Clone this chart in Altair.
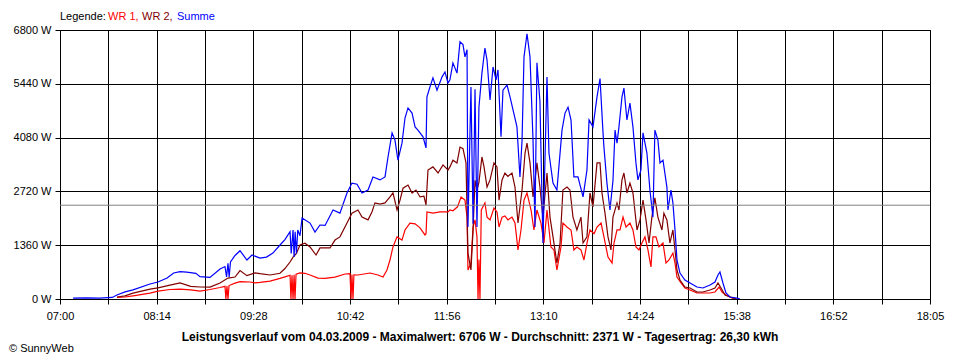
import altair as alt
import pandas as pd

# ---- data (x = minutes after 07:00, y = Watt) ----
sum_t = [10.0, 20, 30, 40, 43.6, 49.8, 55.9, 68.9, 75.0, 82, 87, 91.9, 97, 104, 107.2, 114.8, 122.5, 126.3, 127.5,
         128.6, 129.5, 130.5, 134.0, 137.8, 143.1, 147.0, 153.1, 158, 163, 168.4, 172.2, 176.1, 177, 178.4, 179.2,
         180, 181, 182, 183.7, 185.3, 191.4, 195.2, 199.0, 202.9, 209.0, 214.3, 219.7, 223.5, 227.4, 231.2, 235.8,
         239.6, 245.0, 248.8, 251.1, 254.2, 256.4, 258.7, 261.8, 264.1, 266.4, 269.5, 271.8, 274.0, 277.9, 280.2,
         280.9, 283.2, 285.5, 288.6, 292.4, 294.7, 297.0, 298.5, 300.8, 303.9, 306.2, 308.5, 310.0, 311.6, 312.3,
         314.6, 316.2, 317.7, 319.2, 320.7, 323.0, 325.3, 326.9, 329.2, 331.5, 333.8, 335.3, 337.6, 339.1, 342.2,
         344.5, 346.8, 349.8, 352.1, 353.7, 355.2, 357.5, 359.8, 362.1, 363.6, 365.1, 367.4, 369.7, 372.8, 374.3,
         377.4, 380.4, 384.3, 386.6, 388.9, 391.2, 393.4, 396.5, 400.4, 403.4, 405.0, 408.0, 411.1, 413.4, 415.7,
         416.4, 418.7, 421.0, 423.3, 424.9, 426.4, 427.9, 430.2, 431.7, 434.0, 436.3, 438.6, 440.9, 442.4, 444.7,
         446.3, 449.3, 451.6, 453.9, 455.4, 457.7, 459.3, 461.6, 464.6, 465.4, 467.7, 469.2, 470.8, 472.3, 474.6,
         478.4, 482.3, 487.6, 492.2, 497.6, 501.4, 503.7, 505.2, 507.5, 509.8, 512.9, 518.2, 520.5]
sum_w = [20, 30, 20, 40, 100, 180, 230, 380, 430, 530, 657, 690, 680, 650, 565, 545, 760, 820, 560,
         900, 560, 935, 1100, 1220, 986, 1112, 1035, 1060, 1160, 1365, 1500, 1700, 1150, 1745, 1060,
         1700, 1150, 1745, 1600, 2050, 1920, 1690, 1870, 1860, 2250, 2170, 2680, 2930, 2900, 2680, 2755,
         3085, 3010, 3085, 3590, 4200, 4020, 3510, 3940, 4575, 4830, 4700, 4350, 4270, 4100, 3820,
         5110, 5360, 5590, 5280, 5610, 5740, 5460, 5540, 5970, 5710, 6500, 6430, 6120, 6300, 1820,
         5360, 1900, 5300, 1820, 4850, 5710, 6345, 6040, 5030, 5865, 5540, 5790, 4100, 5280, 5410,
         5110, 4780, 4350, 3085, 4000, 6120, 6706, 6120, 4020, 1820, 5970, 5000, 1415, 5610, 3690,
         2930, 2755, 4270, 4700, 4850, 4525, 3085, 3085, 2580, 3260, 4525, 4350, 5110, 5570, 4200,
         3840, 2930, 2250, 2990, 4270, 3940, 4350, 5110, 5330, 4525, 4950, 4350, 3440, 3010, 3260,
         4200, 3690, 2755, 2070, 4270, 4020, 3440, 3510, 2830, 2250, 2755, 2430, 1745, 986, 657,
         480, 405, 303, 278, 354, 430, 607, 682, 405, 152, 50, 20, 0]

wr2_t = [43.6, 49.8, 55.9, 68.9, 75.0, 84.2, 91.9, 100, 107.2, 114.8, 122.5, 128.6, 134.0, 137.8, 143.1, 149.3,
         153.1, 160.8, 168.4, 172.2, 176.1, 178.4, 181, 183.7, 187.5, 191.4, 196.0, 199.0, 206.7, 210.5, 214.3,
         219.7, 223.5, 228.1, 231.2, 235.8, 238.8, 241.1, 245.0, 248.8, 252.6, 254.9, 258.0, 260.3, 262.6, 266.4,
         269.5, 272.5, 275.6, 278.6, 280.2, 281.7, 285.5, 289.4, 293.2, 297.0, 298.5, 300.8, 303.9, 306.2, 308.5,
         310.8, 312.3, 314.6, 316.2, 317.7, 319.2, 320.7, 323.0, 324.6, 326.9, 329.2, 332.2, 334.5, 336.1, 338.4,
         340.6, 342.9, 346.0, 348.3, 350.6, 353.7, 356.0, 357.5, 359.8, 362.1, 365.1, 367.4, 369.7, 372.8, 375.1,
         377.4, 380.4, 382.8, 385.0, 388.1, 390.4, 392.7, 395.7, 398.8, 400.4, 403.4, 405.7, 408.0, 411.1, 413.4,
         414.9, 417.2, 419.5, 421.8, 423.3, 426.4, 427.9, 430.2, 431.7, 434.0, 436.3, 438.6, 441.7, 444.0, 446.3,
         448.6, 450.9, 453.1, 455.4, 457.7, 460.8, 462.3, 464.6, 466.9, 469.2, 470.8, 472.3, 474.6, 478.4, 482.3,
         487.6, 492.2, 497.6, 501.4, 503.7, 506.0, 509.1, 512.9, 517.4]
wr2_w = [50, 80, 150, 250, 280, 350, 405, 320, 303, 300, 405, 530, 555, 720, 590, 660,
         640, 607, 650, 770, 935, 1060, 1150, 1365, 1410, 1315, 1112, 1290, 1290, 1490, 1570,
         1920, 2170, 2250, 2070, 2000, 2200, 2430, 2400, 2430, 2580, 2680, 2250, 2500, 2800, 2880,
         2680, 2755, 2580, 2600, 2375, 3260, 3340, 3185, 3390, 3260, 3340, 3510, 3440, 3840, 3800,
         3440, 1160, 733, 1745, 3000, 2755, 2950, 3590, 3340, 2830, 3010, 3440, 3340, 2500, 3010,
         3185, 3100, 3185, 2830, 1920, 2755, 3690, 3940, 3440, 2580, 3440, 2830, 2070, 3185, 2070,
         1570, 910, 1415, 2755, 2830, 2755, 2070, 1745, 2070, 1415, 1570, 2680, 2330, 3440, 3440,
         2680, 2170, 1570, 1240, 2070, 2430, 2250, 3010, 3185, 2680, 2930, 2680, 1745, 2000, 2500,
         2000, 1415, 2070, 2555, 2070, 1745, 2170, 2000, 1415, 1745, 1240, 733, 480, 303, 278,
         177, 177, 228, 278, 405, 278, 100, 50, 0]

wr1_t = [43.6, 49.8, 55.9, 68.9, 75.0, 84.2, 91.9, 100, 107.2, 114.8, 122.5, 126.3, 127.0, 127.8, 128.6, 129.4,
         134.0, 137.8, 145.4, 149.3, 153.1, 160.8, 168.4, 172.2, 176.1, 176.8, 177.6, 178.4, 179.2, 179.9, 180.7,
         183.7, 187.5, 191.4, 197.5, 202.9, 210.5, 218.2, 222.0, 222.8, 223.5, 224.3, 225, 228.1, 237.3, 243.4,
         247.3, 250.3, 252.6, 254.9, 258.0, 261.8, 264.1, 267.9, 271.8, 275.6, 279.4, 280.2, 280.9, 285.5, 290.9,
         297.0, 298.5, 300.8, 304.3, 307, 310.0, 311.6, 312.3, 314.6, 316.2, 317.7, 319.2, 320.0, 320.7, 321.5,
         322.5, 325.3, 326.9, 329.2, 332.2, 334.5, 336.1, 338.4, 340.6, 342.9, 346.0, 348.3, 350.6, 352.9, 355.2,
         357.5, 360.6, 362.8, 365.1, 368.2, 370.5, 372.8, 375.8, 378.1, 380.4, 383.5, 385.0, 388.1, 391.2, 393.4,
         395.7, 398.8, 401.1, 403.4, 405.7, 408.8, 411.1, 414.2, 416.4, 419.5, 422.6, 424.1, 426.4, 428.7, 431.0,
         433.3, 436.3, 438.6, 440.9, 443.2, 445.5, 447.8, 450.1, 452.4, 453.9, 456.2, 458.5, 461.6, 463.9, 466.2,
         469.2, 470.8, 472.3, 475.4, 478.4, 482.3, 487.6, 492.2, 497.6, 501.4, 504.5, 506.8, 509.8, 514.4, 518]
wr1_w = [40, 50, 80, 150, 200, 240, 250, 230, 200, 240, 290, 320, 0, 330, 0, 340,
         400, 440, 430, 410, 420, 450, 520, 560, 600, 0, 600, 0, 610, 0, 630,
         660, 650, 607, 530, 520, 555, 632, 640, 0, 620, 0, 610, 607, 657, 607,
         555, 733, 986, 1315, 1570, 1490, 1745, 1920, 1900, 1800, 1620, 1650, 2200, 2170, 2200,
         2200, 2250, 2230, 2330, 2580, 2500, 2070, 733, 910, 1820, 2000, 1570, 0, 1000, 0,
         2250, 2430, 2070, 2000, 2300, 2200, 1820, 2070, 2100, 2000, 2070, 1920, 1240, 1745, 2500,
         2680, 2250, 1745, 2250, 1920, 1415, 2250, 1315, 1240, 733, 1315, 1920, 1820, 1745, 1240,
         1315, 1240, 986, 1415, 1745, 1650, 1820, 1920, 1570, 1060, 910, 1415, 1745, 1745, 2070,
         1820, 1920, 1745, 1315, 1240, 1415, 1570, 1240, 810, 1570, 1570, 1315, 1415, 910, 986,
         1160, 910, 555, 405, 278, 228, 152, 152, 152, 177, 303, 177, 100, 30, 0]

average_w = [2371]
y_ticks = [0, 1360, 2720, 4080, 5440, 6800]
x_ticks = [37 * i for i in range(19)]
x_labels = ["07:00", "", "08:14", "", "09:28", "", "10:42", "", "11:56", "", "13:10", "",
            "14:24", "", "15:38", "", "16:52", "", "18:05"]
legend_parts = ["Legende:", "WR 1,", "WR 2,", "Summe"]
legend_colors = ["#000000", "#FF0000", "#800000", "#0000FF"]
title_text = ("Leistungsverlauf vom 04.03.2009 - Maximalwert: 6706 W - Durchschnitt: 2371 W - "
              "Tagesertrag: 26,30 kWh")
copyright_text = "© SunnyWeb"

FONT = "Liberation Sans"

x_scale = alt.Scale(domain=[0, 666], nice=False, zero=False)
y_scale = alt.Scale(domain=[0, 6800], nice=False)

label_expr = "[" + ",".join(f"'{s}'" for s in x_labels) + "][round(datum.value/37)]"

x_axis = alt.Axis(values=x_ticks, labelExpr=label_expr, grid=True, gridColor="black", gridOpacity=1,
                  tickColor="black", tickSize=5, domainColor="black", labelFont=FONT, labelFontSize=11,
                  labelColor="black", labelPadding=6, title=None, labelFlush=False, labelOverlap=False)
y_axis = alt.Axis(values=y_ticks, labelExpr="datum.value + ' W'", grid=True, gridColor="black", gridOpacity=1,
                  tickColor="black", tickSize=5, domainColor="black", labelFont=FONT, labelFontSize=11,
                  labelColor="black", labelPadding=4, title=None, labelOverlap=False)


def series(t, w, color):
    df = pd.DataFrame({"t": t, "w": w})
    return alt.Chart(df).mark_line(color=color, strokeWidth=1.2, clip=True).encode(
        x=alt.X("t:Q", scale=x_scale, axis=x_axis),
        y=alt.Y("w:Q", scale=y_scale, axis=y_axis),
    )


wr1_chart = series(wr1_t, wr1_w, "#FF0000")
wr2_chart = series(wr2_t, wr2_w, "#800000")
sum_chart = series(sum_t, sum_w, "#0000FF")

avg_rule = alt.Chart(pd.DataFrame({"w": average_w})).mark_rule(color="#808080", strokeWidth=1).encode(
    y=alt.Y("w:Q", scale=y_scale, axis=y_axis)
)

one = pd.DataFrame({"a": [0]})
legend_x = [0, 48, 82, 117]
legend_layers = []
for txt, col, lx in zip(legend_parts, legend_colors, legend_x):
    legend_layers.append(
        alt.Chart(one).mark_text(align="left", baseline="middle", font=FONT, fontSize=11, color=col).encode(
            x=alt.value(lx), y=alt.value(-13), text=alt.value(txt))
    )

title_layer = alt.Chart(one).mark_text(align="center", baseline="middle", font=FONT, fontSize=12,
                                       fontWeight="bold", color="black").encode(
    x=alt.value(420), y=alt.value(307), text=alt.value(title_text))
copy_layer = alt.Chart(one).mark_text(align="left", baseline="middle", font=FONT, fontSize=11,
                                      color="black").encode(
    x=alt.value(-51), y=alt.value(319), text=alt.value(copyright_text))

chart = alt.layer(wr1_chart, wr2_chart, sum_chart, avg_rule, *legend_layers, title_layer, copy_layer).properties(
    width=870, height=269,
    padding={"left": 52, "top": 22, "right": 22, "bottom": 56},
    autosize=alt.AutoSizeParams(type="none"),
    background="white",
).configure_view(stroke="black", strokeWidth=1)

chart.save("out.html", embed_options={"renderer": "svg", "actions": False})
